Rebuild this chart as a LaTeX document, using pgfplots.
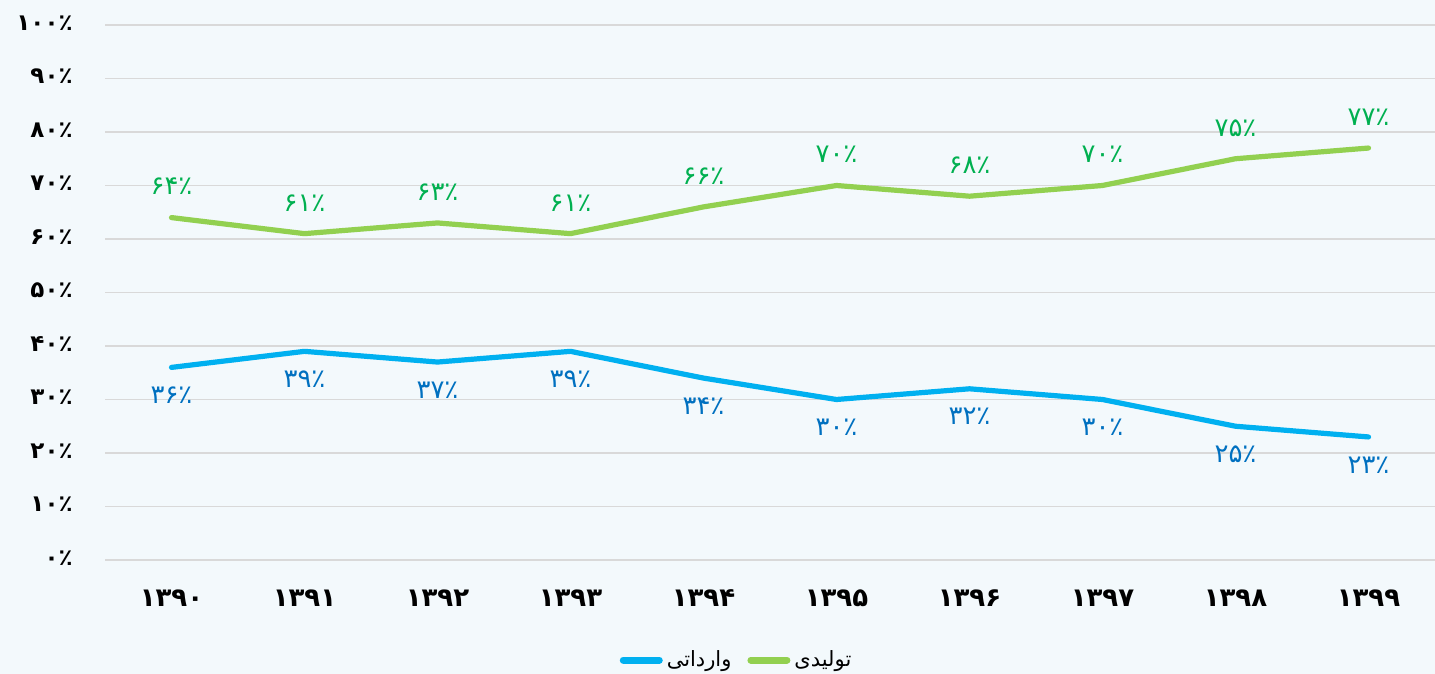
\documentclass[border=0pt]{standalone}
\usepackage{fontspec}
\usepackage{pgfplots}
\pgfplotsset{compat=1.18}
\TeXXeTstate=1
\newfontfamily\arabicfont[Script=Arabic]{DejaVu Sans}
\definecolor{bg}{HTML}{F3F9FC}
\definecolor{gridgray}{HTML}{D9D9D9}
\definecolor{linegreen}{HTML}{92D050}
\definecolor{lineblue}{HTML}{00B0F0}
\definecolor{labelgreen}{HTML}{00B050}
\definecolor{labelblue}{HTML}{0070C0}
\begin{document}
\begin{tikzpicture}
\fill[bg] (0,0) rectangle (717.5pt,337pt);
\useasboundingbox (0,0) rectangle (717.5pt,337pt);
\begin{axis}[
  at={(52.5pt,57pt)}, anchor=south west,
  scale only axis, width=665pt, height=267.5pt,
  xmin=-0.5, xmax=9.5, ymin=0, ymax=100,
  axis line style={draw=none},
  tick style={draw=none},
  ymajorgrids, grid style={color=gridgray, line width=0.75pt},
  clip=false,
  xtick={0,1,2,3,4,5,6,7,8,9},
  xticklabels={۱۳۹۰,۱۳۹۱,۱۳۹۲,۱۳۹۳,۱۳۹۴,۱۳۹۵,۱۳۹۶,۱۳۹۷,۱۳۹۸,۱۳۹۹},
  ytick={0,10,20,30,40,50,60,70,80,90,100},
  yticklabels={۰٪,۱۰٪,۲۰٪,۳۰٪,۴۰٪,۵۰٪,۶۰٪,۷۰٪,۸۰٪,۹۰٪,۱۰۰٪},
  xticklabel style={anchor=north, inner sep=0pt, yshift=-14.5pt, font=\arabicfont\bfseries\fontsize{13}{15}\selectfont},
  yticklabel style={anchor=east, inner sep=0pt, xshift=-16pt, yshift=1pt, font=\arabicfont\bfseries\fontsize{11.5}{14}\selectfont},
  legend style={at={(0.4756,-0.187)}, anchor=center, draw=none, fill=none,
    font=\arabicfont\fontsize{10.5}{13}\selectfont,
    /tikz/every even column/.append style={column sep=6pt}},
  legend columns=2,
  legend image code/.code={\draw[#1, line width=3.5pt, line cap=round] (0pt,0pt) -- (18pt,0pt);},
]
\addplot[color=lineblue, line width=2.6pt, line join=round, line cap=round,
  nodes near coords, point meta=explicit symbolic,
  every node near coord/.append style={anchor=north, yshift=-8.5pt, inner sep=0pt, text=labelblue, font=\arabicfont\fontsize{13}{15}\selectfont}]
  coordinates {(0,36) [۳۶٪] (1,39) [۳۹٪] (2,37) [۳۷٪] (3,39) [۳۹٪] (4,34) [۳۴٪]
               (5,30) [۳۰٪] (6,32) [۳۲٪] (7,30) [۳۰٪] (8,25) [۲۵٪] (9,23) [۲۳٪]};
\addplot[color=linegreen, line width=2.6pt, line join=round, line cap=round,
  nodes near coords, point meta=explicit symbolic,
  every node near coord/.append style={anchor=south, yshift=10pt, inner sep=0pt, text=labelgreen, font=\arabicfont\fontsize{13}{15}\selectfont}]
  coordinates {(0,64) [۶۴٪] (1,61) [۶۱٪] (2,63) [۶۳٪] (3,61) [۶۱٪] (4,66) [۶۶٪]
               (5,70) [۷۰٪] (6,68) [۶۸٪] (7,70) [۷۰٪] (8,75) [۷۵٪] (9,77) [۷۷٪]};
\legend{{\beginR وارداتی\endR},{\beginR تولیدی\endR}}
\end{axis}
\end{tikzpicture}
\end{document}
